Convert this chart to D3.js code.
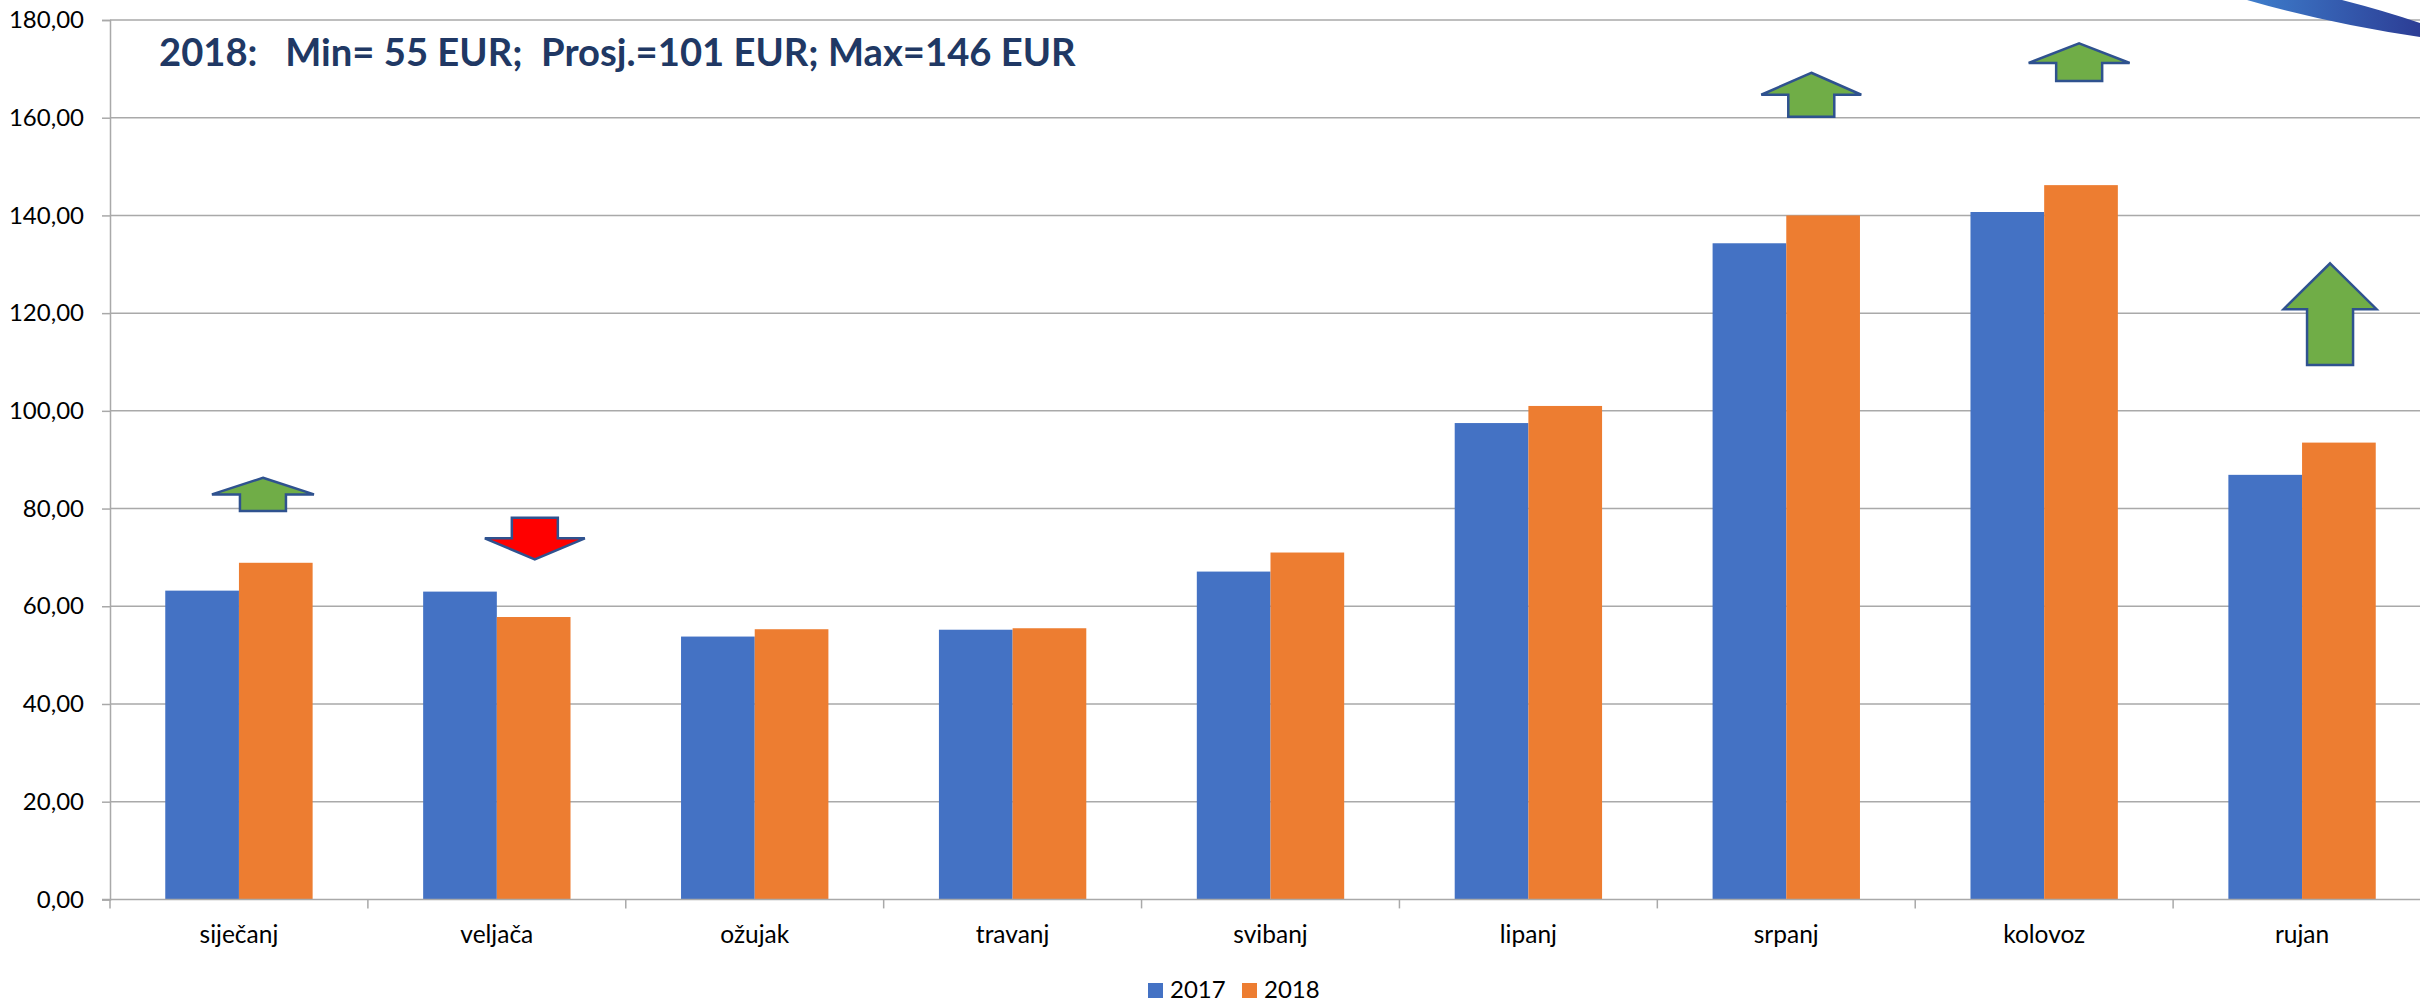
<!DOCTYPE html>
<html>
<head>
<meta charset="utf-8">
<script src="https://d3js.org/d3.v7.min.js"></script>
<style>
  html, body { margin: 0; padding: 0; background: #fff; }
  svg { display: block; }
  text { font-family: Lato, "Open Sans", sans-serif; }
</style>
</head>
<body>
<div id="chart"></div>
<script>
// data
var months = ["siječanj", "veljača", "ožujak", "travanj", "svibanj", "lipanj", "srpanj", "kolovoz", "rujan"];
var series = ["2017", "2018"];
var values2017 = [63.2, 63.0, 53.8, 55.2, 67.1, 97.5, 134.3, 140.7, 86.9];
var values2018 = [68.9, 57.8, 55.3, 55.5, 71.0, 101.0, 140.0, 146.2, 93.5];
var yTicks = [0, 20, 40, 60, 80, 100, 120, 140, 160, 180];
var title = "2018:   Min= 55 EUR;  Prosj.=101 EUR; Max=146 EUR";

// arrow markers next to some months (tip / shoulder / base in data units)
var arrows = [
  {month: "siječanj", dir: "up",   dx: 24, tip: 86.3,  wing: 82.9,  base: 79.5,  head: 102},
  {month: "veljača",  dir: "down", dx: 38, tip: 69.6,  wing: 73.9,  base: 78.1,  head: 100},
  {month: "srpanj",   dir: "up",   dx: 25, tip: 169.2, wing: 164.7, base: 160.2, head: 100},
  {month: "kolovoz",  dir: "up",   dx: 35, tip: 175.2, wing: 171.2, base: 167.5, head: 101},
  {month: "rujan",    dir: "up",   dx: 28, tip: 130.2, wing: 120.8, base: 109.4, head: 93}
];

var colors = {"2017": "#4472C4", "2018": "#ED7D31"};
var W = 2420, H = 1004;

var svg = d3.select("#chart").append("svg")
    .attr("width", W).attr("height", H);

var x0 = d3.scaleBand().domain(months).range([110, 2431]).paddingInner(0).paddingOuter(0);
var bw = x0.bandwidth();
var gap = bw * 0.75 / 3.5;
var x1 = d3.scaleBand().domain(series).range([gap, bw - gap]).padding(0);
var y = d3.scaleLinear().domain([0, 180]).range([899.4, 20]);

var fmt = d3.formatLocale({decimal: ",", thousands: ".", grouping: [3], currency: ["", " EUR"]}).format(".2f");

// gridlines
svg.append("g").selectAll("line")
  .data(yTicks.filter(function(d) { return d > 0; }))
  .enter().append("line")
    .attr("x1", 110).attr("x2", W)
    .attr("y1", function(d) { return y(d); })
    .attr("y2", function(d) { return y(d); })
    .attr("stroke", "#a9a9a9").attr("stroke-width", 1.5);

// y axis
var yAxis = d3.axisLeft(y).tickValues(yTicks).tickSize(8).tickPadding(18).tickFormat(fmt);
var gy = svg.append("g").attr("transform", "translate(110,0)").call(yAxis);
gy.select(".domain").attr("stroke", "#a9a9a9").attr("stroke-width", 1.5);
gy.selectAll(".tick line").attr("stroke", "#a9a9a9").attr("stroke-width", 1.5);
gy.selectAll(".tick text").style("font-size", "24px").style("font-family", "Lato, sans-serif").attr("fill", "#000");

// bars
var rows = months.map(function(m, i) {
  return {month: m, vals: [{s: "2017", v: values2017[i]}, {s: "2018", v: values2018[i]}]};
});
svg.append("g").selectAll("g")
  .data(rows).enter().append("g")
    .attr("transform", function(d) { return "translate(" + x0(d.month) + ",0)"; })
  .selectAll("rect")
  .data(function(d) { return d.vals; })
  .enter().append("rect")
    .attr("x", function(d) { return x1(d.s); })
    .attr("width", x1.bandwidth())
    .attr("y", function(d) { return y(d.v); })
    .attr("height", function(d) { return y(0) - y(d.v); })
    .attr("fill", function(d) { return colors[d.s]; });

// x axis line and boundary ticks
var xa = svg.append("g");
xa.append("line").attr("x1", 102).attr("x2", W).attr("y1", y(0)).attr("y2", y(0))
  .attr("stroke", "#a9a9a9").attr("stroke-width", 1.5);
xa.selectAll("line.tk")
  .data(months.map(function(m) { return x0(m); }).concat([x0(months[months.length - 1]) + bw]))
  .enter().append("line").attr("class", "tk")
    .attr("x1", function(d) { return d; }).attr("x2", function(d) { return d; })
    .attr("y1", y(0)).attr("y2", y(0) + 9)
    .attr("stroke", "#a9a9a9").attr("stroke-width", 1.5);
xa.selectAll("text")
  .data(months).enter().append("text")
    .attr("x", function(d) { return x0(d) + bw / 2; })
    .attr("y", 943)
    .attr("text-anchor", "middle")
    .attr("fill", "#000")
    .style("font-size", "24.5px")
    .text(function(d) { return d; });

// arrows
function arrowPath(a) {
  var cx = x0(a.month) + bw / 2 + a.dx;
  var hw = a.head / 2, sw = 23;
  var pts = [
    [cx, y(a.tip)], [cx + hw, y(a.wing)], [cx + sw, y(a.wing)],
    [cx + sw, y(a.base)], [cx - sw, y(a.base)], [cx - sw, y(a.wing)],
    [cx - hw, y(a.wing)]
  ];
  return d3.line()(pts) + "Z";
}
svg.append("g").selectAll("path")
  .data(arrows).enter().append("path")
    .attr("d", arrowPath)
    .attr("fill", function(d) { return d.dir === "up" ? "#70AD47" : "#FF0000"; })
    .attr("stroke", "#2F528F").attr("stroke-width", 2.5)
    .attr("stroke-linejoin", "miter");

// blue swoosh at top right corner
var defs = svg.append("defs");
var grad = defs.append("linearGradient").attr("id", "swoosh")
  .attr("x1", "0%").attr("x2", "100%").attr("y1", "0%").attr("y2", "0%");
grad.append("stop").attr("offset", "0%").attr("stop-color", "#3E7ECC");
grad.append("stop").attr("offset", "100%").attr("stop-color", "#2C3D95");
svg.append("path")
  .attr("d", "M2247,0 Q2330,24 2420,37 L2420,23 Q2385,11 2342,0 Z")
  .attr("fill", "url(#swoosh)");

// title
var t = svg.append("text")
  .attr("x", 159).attr("y", 66)
  .attr("xml:space", "preserve")
  .style("white-space", "pre")
  .style("font-size", "40px").style("font-weight", "bold")
  .attr("fill", "#203864")
  .text(title);
var tw = t.node().getComputedTextLength();
t.style("font-size", (40 * 918 / tw).toFixed(1) + "px");

// legend
var lg = svg.append("g");
var lx = [1148, 1242];
series.forEach(function(s, i) {
  lg.append("rect").attr("x", lx[i]).attr("y", 983).attr("width", 15).attr("height", 15)
    .attr("fill", colors[s]);
  lg.append("text").attr("x", lx[i] + 22).attr("y", 998)
    .attr("fill", "#000")
    .style("font-size", "24px").text(s);
});
</script>
</body>
</html>
